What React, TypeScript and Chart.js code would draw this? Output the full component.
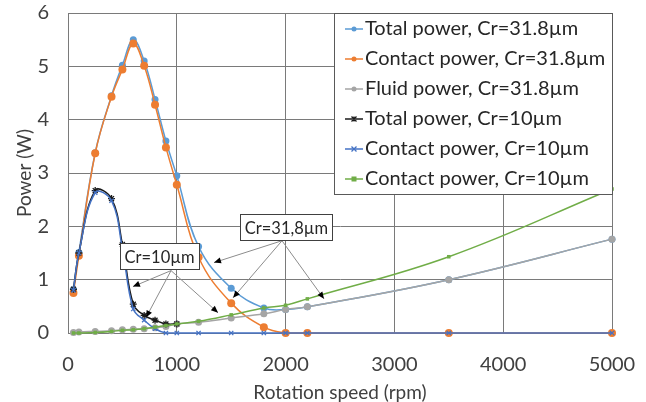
import React, { useEffect, useRef } from 'react';
import { Chart, registerables } from 'chart.js';

Chart.register(...registerables);

const FONT = 'Lato, "Open Sans", sans-serif';

// ---- data ----
const speeds318 = [50, 100, 250, 400, 500, 600, 700, 800, 900, 1000, 1200, 1500, 1800, 2000, 2200, 3500, 5000];
const total318 = [0.81, 1.51, 3.38, 4.45, 5.02, 5.5, 5.1, 4.38, 3.6, 2.95, 1.62, 0.84, 0.47, 0.44, 0.49, 1.0, 1.76];
const contact318 = [0.75, 1.45, 3.37, 4.43, 4.94, 5.43, 5.01, 4.28, 3.48, 2.78, 1.42, 0.56, 0.11, 0, 0, 0, 0];
const fluid318 = [0.01, 0.02, 0.03, 0.04, 0.06, 0.07, 0.08, 0.1, 0.12, 0.17, 0.2, 0.28, 0.36, 0.44, 0.49, 1.0, 1.76];

const speeds10Total = [50, 100, 250, 400, 500, 600, 700, 800, 900, 1000];
const total10 = [0.82, 1.5, 2.67, 2.52, 1.66, 0.54, 0.33, 0.24, 0.17, 0.17];
const speeds10 = [50, 100, 250, 400, 500, 600, 700, 800, 900, 1000, 1200, 1500, 1800, 2000, 2200, 3500, 5000];
const contact10 = [0.8, 1.5, 2.63, 2.48, 1.58, 0.45, 0.24, 0.08, 0, 0, 0, 0, 0, 0, 0, 0, 0];
const fluid10 = [0, 0, 0.01, 0.03, 0.05, 0.06, 0.08, 0.11, 0.14, 0.17, 0.22, 0.34, 0.47, 0.52, 0.64, 1.43, 2.7];

const seriesLabels = [
  'Total power, Cr=31.8µm',
  'Contact power, Cr=31.8µm',
  'Fluid power, Cr=31.8µm',
  'Total power, Cr=10µm',
  'Contact power, Cr=10µm',
  'Contact power, Cr=10µm',
];

const xTitle = 'Rotation speed (rpm)';
const yTitle = 'Power (W)';

// annotation callouts (data coordinates)
const callouts = [
  { text: 'Cr=10µm', at: [841, 1.44], from: [947, 1.17], to: [[597, 0.87], [717, 0.29], [1379, 0.38]] },
  { text: 'Cr=31,8µm', at: [2008, 1.98], from: [1967, 1.73], to: [[1342, 1.32], [1517, 0.66], [2353, 0.64]] },
];

const pts = (xs: number[], ys: number[]) => xs.map((x, i) => ({ x, y: ys[i] }));

function drawMarker(ctx: CanvasRenderingContext2D, style: string, x: number, y: number, r: number, color: string) {
  ctx.save();
  ctx.fillStyle = color;
  ctx.strokeStyle = color;
  ctx.lineWidth = 1.3;
  ctx.beginPath();
  if (style === 'circle') {
    ctx.arc(x, y, r, 0, Math.PI * 2);
    ctx.fill();
  } else if (style === 'rect') {
    ctx.fillRect(x - r, y - r, 2 * r, 2 * r);
  } else if (style === 'crossRot') {
    ctx.moveTo(x - r, y - r); ctx.lineTo(x + r, y + r);
    ctx.moveTo(x + r, y - r); ctx.lineTo(x - r, y + r);
    ctx.stroke();
  } else if (style === 'star') {
    ctx.moveTo(x - r, y - r); ctx.lineTo(x + r, y + r);
    ctx.moveTo(x + r, y - r); ctx.lineTo(x - r, y + r);
    ctx.moveTo(x, y - r); ctx.lineTo(x, y + r);
    ctx.stroke();
  }
  ctx.restore();
}

const legendPlugin = {
  id: 'boxLegend',
  afterDraw(chart: any) {
    const { ctx, chartArea } = chart;
    const W = 279;
    const ROW = 30;
    const right = chartArea.right + 1;
    const left = right - W;
    const top = chartArea.top;
    const n = chart.data.datasets.length;
    const h = ROW * n + 2;
    ctx.save();
    ctx.fillStyle = '#ffffff';
    ctx.fillRect(left, top, W, h);
    ctx.strokeStyle = '#595959';
    ctx.lineWidth = 1;
    ctx.strokeRect(Math.round(left) + 0.5, Math.round(top) + 0.5, W - 1, h - 1);
    chart.data.datasets.forEach((ds: any, i: number) => {
      const cy = top + 16 + i * ROW;
      ctx.strokeStyle = ds.borderColor;
      ctx.lineWidth = 1.5;
      ctx.beginPath();
      ctx.moveTo(left + 11, cy);
      ctx.lineTo(left + 29, cy);
      ctx.stroke();
      drawMarker(ctx, ds.pointStyle, left + 20, cy, 2.5, ds.pointBackgroundColor);
      ctx.fillStyle = '#262626';
      ctx.font = `20px ${FONT}`;
      ctx.textBaseline = 'middle';
      ctx.textAlign = 'left';
      ctx.fillText(ds.label, left + 31, cy);
    });
    ctx.restore();
  },
};

const calloutPlugin = {
  id: 'callouts',
  afterDatasetsDraw(chart: any) {
    const { ctx, scales } = chart;
    const xs = scales.x;
    const ys = scales.y;
    ctx.save();
    ctx.font = `16.5px ${FONT}`;
    callouts.forEach((c) => {
      const fx = xs.getPixelForValue(c.from[0]);
      const fy = ys.getPixelForValue(c.from[1]);
      c.to.forEach((t) => {
        const tx = xs.getPixelForValue(t[0]);
        const ty = ys.getPixelForValue(t[1]);
        ctx.strokeStyle = '#8c8c8c';
        ctx.lineWidth = 1;
        ctx.beginPath();
        ctx.moveTo(fx, fy);
        ctx.lineTo(tx, ty);
        ctx.stroke();
        const ang = Math.atan2(ty - fy, tx - fx);
        const L = 7;
        const Wd = 3;
        ctx.fillStyle = '#000000';
        ctx.beginPath();
        ctx.moveTo(tx, ty);
        ctx.lineTo(tx - L * Math.cos(ang) + Wd * Math.sin(ang), ty - L * Math.sin(ang) - Wd * Math.cos(ang));
        ctx.lineTo(tx - L * Math.cos(ang) - Wd * Math.sin(ang), ty - L * Math.sin(ang) + Wd * Math.cos(ang));
        ctx.closePath();
        ctx.fill();
      });
    });
    callouts.forEach((c) => {
      const cx = xs.getPixelForValue(c.at[0]);
      const cy = ys.getPixelForValue(c.at[1]);
      const tw = ctx.measureText(c.text).width;
      const bw = Math.round(tw + 10);
      const bh = 27;
      const bx = Math.round(cx - bw / 2);
      const by = Math.round(cy - bh / 2);
      ctx.fillStyle = '#ffffff';
      ctx.fillRect(bx, by, bw, bh);
      ctx.strokeStyle = '#404040';
      ctx.lineWidth = 1;
      ctx.strokeRect(bx + 0.5, by + 0.5, bw - 1, bh - 1);
      ctx.fillStyle = '#262626';
      ctx.textAlign = 'center';
      ctx.textBaseline = 'middle';
      ctx.fillText(c.text, cx, cy + 1);
    });
    ctx.restore();
  },
};

const zeroPad = (s: any) => {
  s.paddingLeft = 0;
  s.paddingRight = 0;
  s.paddingTop = 0;
  s.paddingBottom = 0;
};

export default function App() {
  const ref = useRef<HTMLCanvasElement | null>(null);

  useEffect(() => {
    document.body.style.margin = '0';
    if (!ref.current) return;
    const mk = (label: string, data: any[], color: string, style: string, r: number, order: number, tension = 0.4) => ({
      label,
      data,
      borderColor: color,
      backgroundColor: color,
      pointBackgroundColor: color,
      pointBorderColor: color,
      pointStyle: style,
      pointRadius: r,
      pointBorderWidth: style === 'crossRot' || style === 'star' ? 1.3 : 0,
      borderWidth: 1.5,
      tension,
      order,
      fill: false,
      clip: 8,
    });
    const chart = new Chart(ref.current, {
      type: 'line',
      data: {
        datasets: [
          mk(seriesLabels[0], pts(speeds318, total318), '#5B9BD5', 'circle', 3.5, 6),
          mk(seriesLabels[1], pts(speeds318, contact318), '#ED7D31', 'circle', 4, 5),
          mk(seriesLabels[2], pts(speeds318, fluid318), '#A5A5A5', 'circle', 3.5, 4),
          mk(seriesLabels[3], pts(speeds10Total, total10), '#1a1a1a', 'star', 3.5, 3),
          mk(seriesLabels[4], pts(speeds10, contact10), '#4472C4', 'crossRot', 3, 2),
          mk(seriesLabels[5], pts(speeds10, fluid10), '#70AD47', 'rect', 2.5, 1),
        ] as any,
      },
      options: {
        animation: false,
        responsive: false,
        maintainAspectRatio: false,
        layout: { padding: { top: 13, right: 34, left: 0, bottom: 0 } },
        plugins: { legend: { display: false }, tooltip: { enabled: false } },
        scales: {
          x: {
            type: 'linear',
            min: 0,
            max: 5000,
            ticks: { stepSize: 1000, padding: 20, color: '#404040', font: { family: FONT, size: 20 }, callback: (v: any) => String(v) },
            grid: { color: '#7a7a7a', drawTicks: false, lineWidth: 1 },
            border: { color: '#7a7a7a' },
            title: { display: true, text: xTitle, color: '#404040', font: { family: FONT, size: 19, lineHeight: 1.0 }, padding: { top: 0, bottom: 0 } },
            afterFit: (s: any) => { s.height = 69; zeroPad(s); },
          },
          y: {
            min: 0,
            max: 6,
            ticks: { stepSize: 1, padding: 19, color: '#404040', font: { family: FONT, size: 20 }, callback: (v: any) => String(v) },
            grid: { color: '#7a7a7a', drawTicks: false, lineWidth: 1 },
            border: { color: '#7a7a7a' },
            title: { display: true, text: yTitle, color: '#404040', font: { family: FONT, size: 19, lineHeight: 1.2 }, padding: { top: 13, bottom: 0 } },
            afterFit: (s: any) => { s.width = 68; zeroPad(s); },
          },
        },
      } as any,
      plugins: [calloutPlugin, legendPlugin],
    });
    return () => chart.destroy();
  }, []);

  return (
    <div style={{ position: 'absolute', left: 0, top: 0, width: 646, height: 402, background: '#fff' }}>
      <canvas ref={ref} width={646} height={402} style={{ display: 'block' }} />
    </div>
  );
}
